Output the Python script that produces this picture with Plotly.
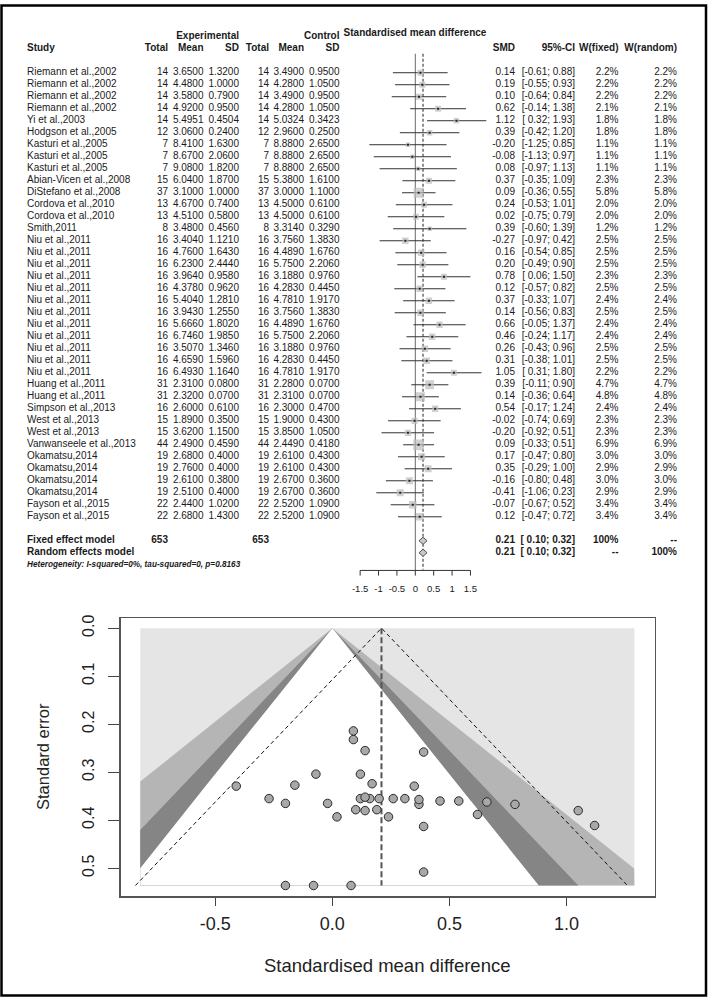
import numpy as np
import plotly.graph_objects as go

W, H = 708, 998

# ---------------- data ----------------
study = (["Riemann et al.,2002"] * 4 + ["Yi et al.,2003", "Hodgson et al.,2005"] +
         ["Kasturi et al.,2005"] * 3 +
         ["Abian-Vicen et al.,2008", "DiStefano et al.,2008", "Cordova et al.,2010",
          "Cordova et al.,2010", "Smith,2011"] +
         ["Niu et al.,2011"] * 12 + ["Huang et al.,2011"] * 2 + ["Simpson et al.,2013"] +
         ["West et al.,2013"] * 2 + ["Vanwanseele et al.,2013"] + ["Okamatsu,2014"] * 4 +
         ["Fayson et al.,2015"] * 2)

exp_total = [14, 14, 14, 14, 14, 12, 7, 7, 7, 15, 37, 13, 13, 8,
             16, 16, 16, 16, 16, 16, 16, 16, 16, 16, 16, 16,
             31, 31, 16, 15, 15, 44, 19, 19, 19, 19, 22, 22]
exp_mean = [3.6500, 4.4800, 3.5800, 4.9200, 5.4951, 3.0600, 8.4100, 8.6700, 9.0800, 6.0400,
            3.1000, 4.6700, 4.5100, 3.4800, 3.4040, 4.7600, 6.2300, 3.9640, 4.3780, 5.4040,
            3.9430, 5.6660, 6.7460, 3.5070, 4.6590, 6.4930, 2.3100, 2.3200, 2.6000, 1.8900,
            3.6200, 2.4900, 2.6800, 2.7600, 2.6100, 2.5100, 2.4400, 2.6800]
exp_sd = [1.3200, 1.0000, 0.7900, 0.9500, 0.4504, 0.2400, 1.6300, 2.0600, 1.8200, 1.8700,
          1.0000, 0.7400, 0.5800, 0.4560, 1.1210, 1.6430, 2.4440, 0.9580, 0.9620, 1.2810,
          1.2550, 1.8020, 1.9850, 1.3460, 1.5960, 1.1640, 0.0800, 0.0700, 0.6100, 0.3500,
          1.1500, 0.4590, 0.4000, 0.4000, 0.3800, 0.4000, 1.0200, 1.4300]
ctl_total = exp_total[:]
ctl_mean = [3.4900, 4.2800, 3.4900, 4.2800, 5.0324, 2.9600, 8.8800, 8.8800, 8.8800, 5.3800,
            3.0000, 4.5000, 4.5000, 3.3140, 3.7560, 4.4890, 5.7500, 3.1880, 4.2830, 4.7810,
            3.7560, 4.4890, 5.7500, 3.1880, 4.2830, 4.7810, 2.2800, 2.3100, 2.3000, 1.9000,
            3.8500, 2.4490, 2.6100, 2.6100, 2.6700, 2.6700, 2.5200, 2.5200]
ctl_sd = [0.9500, 1.0500, 0.9500, 1.0500, 0.3423, 0.2500, 2.6500, 2.6500, 2.6500, 1.6100,
          1.1000, 0.6100, 0.6100, 0.3290, 1.3830, 1.6760, 2.2060, 0.9760, 0.4450, 1.9170,
          1.3830, 1.6760, 2.2060, 0.9760, 0.4450, 1.9170, 0.0700, 0.0700, 0.4700, 0.4300,
          1.0500, 0.4180, 0.4300, 0.4300, 0.3600, 0.3600, 1.0900, 1.0900]
smd = [0.14, 0.19, 0.10, 0.62, 1.12, 0.39, -0.20, -0.08, 0.08, 0.37, 0.09, 0.24, 0.02, 0.39,
       -0.27, 0.16, 0.20, 0.78, 0.12, 0.37, 0.14, 0.66, 0.46, 0.26, 0.31, 1.05, 0.39, 0.14,
       0.54, -0.02, -0.20, 0.09, 0.17, 0.35, -0.16, -0.41, -0.07, 0.12]
ci_lo = [-0.61, -0.55, -0.64, -0.14, 0.32, -0.42, -1.25, -1.13, -0.97, -0.35, -0.36, -0.53,
         -0.75, -0.60, -0.97, -0.54, -0.49, 0.06, -0.57, -0.33, -0.56, -0.05, -0.24, -0.43,
         -0.38, 0.31, -0.11, -0.36, -0.17, -0.74, -0.92, -0.33, -0.47, -0.29, -0.80, -1.06,
         -0.67, -0.47]
ci_hi = [0.88, 0.93, 0.84, 1.38, 1.93, 1.20, 0.85, 0.97, 1.13, 1.09, 0.55, 1.01, 0.79, 1.39,
         0.42, 0.85, 0.90, 1.50, 0.82, 1.07, 0.83, 1.37, 1.17, 0.96, 1.01, 1.80, 0.90, 0.64,
         1.24, 0.69, 0.51, 0.51, 0.80, 1.00, 0.48, 0.23, 0.52, 0.72]
w_fixed = [2.2, 2.2, 2.2, 2.1, 1.8, 1.8, 1.1, 1.1, 1.1, 2.3, 5.8, 2.0, 2.0, 1.2, 2.5, 2.5, 2.5,
           2.3, 2.5, 2.4, 2.5, 2.4, 2.4, 2.5, 2.5, 2.2, 4.7, 4.8, 2.4, 2.3, 2.3, 6.9, 3.0, 2.9,
           3.0, 2.9, 3.4, 3.4]
w_random = w_fixed[:]
# standard errors used in the funnel plot (read from CI widths)
se = [0.380, 0.378, 0.378, 0.388, 0.411, 0.413, 0.536, 0.536, 0.536, 0.367, 0.232, 0.393,
      0.393, 0.508, 0.355, 0.355, 0.355, 0.367, 0.355, 0.357, 0.352, 0.362, 0.360, 0.355,
      0.355, 0.380, 0.258, 0.255, 0.360, 0.365, 0.365, 0.214, 0.324, 0.329, 0.327, 0.329,
      0.304, 0.304]

pooled_est, pooled_lo, pooled_hi = 0.21, 0.10, 0.32
n_total_exp, n_total_ctl = 653, 653
hetero_text = "Heterogeneity: I-squared=0%, tau-squared=0, p=0.8163"
forest_ticks = [-1.5, -1, -0.5, 0, 0.5, 1, 1.5]
forest_ticktext = ["-1.5", "-1", "-0.5", "0", "0.5", "1", "1.5"]
funnel_xticks = [-0.5, 0.0, 0.5, 1.0]
funnel_yticks = [0.0, 0.1, 0.2, 0.3, 0.4, 0.5]
contour_z = [2.576, 1.96, 1.645]   # 99%, 95%, 90%
funnel_xlim = [-0.82, 1.29]

# ---------------- layout constants ----------------
FONT = "Liberation Sans, Arial, Helvetica, sans-serif"
NARROW = "Liberation Sans Narrow, Arial Narrow, Liberation Sans, Arial, sans-serif"
TXT = "#1a1a1a"
row0_px, row_h = 69.0, 12.05
r_top = -row0_px / row_h
r_bot = (H - row0_px) / row_h
fx0, fs = 415.3, 36.77      # forest zero px, px per unit
n = len(study)
rows = list(range(n))
r_fixed, r_random, r_het = n + 1, n + 2, n + 3

fig = go.Figure()

def txt(xpx, ys, texts, pos="middle left", size=10, bold=False, italic=False, family=FONT):
    t = list(texts)
    if bold:
        t = ["<b>%s</b>" % s for s in t]
    if italic:
        t = ["<i>%s</i>" % s for s in t]
    fig.add_trace(go.Scatter(x=[xpx] * len(t), y=ys, text=t, mode="text", textposition=pos,
                             textfont=dict(family=family, size=size, color=TXT),
                             xaxis="x2", yaxis="y", hoverinfo="skip", showlegend=False,
                             cliponaxis=False))

# ---- forest: vertical reference lines ----
fig.add_trace(go.Scatter(x=[0, 0], y=[-1.58, 41.47], mode="lines",
                         line=dict(color="#6a6a6a", width=1), xaxis="x", yaxis="y",
                         hoverinfo="skip", showlegend=False))
fig.add_trace(go.Scatter(x=[pooled_est, pooled_est], y=[-1.58, 41.4], mode="lines",
                         line=dict(color="#222", width=1, dash="3px,2px"), xaxis="x", yaxis="y",
                         hoverinfo="skip", showlegend=False))

# ---- forest: CI lines ----
cx, cy = [], []
for i in rows:
    cx += [ci_lo[i], ci_hi[i], None]
    cy += [i, i, None]
fig.add_trace(go.Scatter(x=cx, y=cy, mode="lines", line=dict(color="#333", width=1),
                         xaxis="x", yaxis="y", hoverinfo="skip", showlegend=False))
# squares
fig.add_trace(go.Scatter(x=smd, y=rows, mode="markers",
                         marker=dict(symbol="square", size=[4.1 * np.sqrt(w) for w in w_fixed],
                                     color="#bdbdbd", line=dict(width=0)),
                         xaxis="x", yaxis="y", hoverinfo="skip", showlegend=False))
fig.add_trace(go.Scatter(x=smd, y=rows, mode="markers",
                         marker=dict(symbol="square", size=2, color="#222", line=dict(width=0)),
                         xaxis="x", yaxis="y", hoverinfo="skip", showlegend=False))
# diamonds
for rr in (r_fixed, r_random):
    h = 0.3
    fig.add_trace(go.Scatter(x=[pooled_lo, pooled_est, pooled_hi, pooled_est, pooled_lo],
                             y=[rr, rr - h, rr, rr + h, rr], mode="lines", fill="toself",
                             fillcolor="#c8c8c8", line=dict(color="#555", width=1),
                             xaxis="x", yaxis="y", hoverinfo="skip", showlegend=False))
# forest axis
ax_r, tk_r = 41.47, 41.9
axx, axy = [forest_ticks[0], forest_ticks[-1], None], [ax_r, ax_r, None]
for t in forest_ticks:
    axx += [t, t, None]
    axy += [ax_r, tk_r, None]
fig.add_trace(go.Scatter(x=axx, y=axy, mode="lines", line=dict(color="#333", width=1),
                         xaxis="x", yaxis="y", hoverinfo="skip", showlegend=False))
fig.add_trace(go.Scatter(x=forest_ticks, y=[43.05] * len(forest_ticks), text=forest_ticktext,
                         mode="text", textposition="middle center",
                         textfont=dict(family=NARROW, size=9.5, color=TXT),
                         xaxis="x", yaxis="y", hoverinfo="skip", showlegend=False))

# ---- forest: text table ----
col = dict(study=27, et=168, em=203.5, esd=239, ct=269, cm=304, csd=339.5,
           smd=515, ci=575, wf=618.5, wr=677)
txt(col["study"], rows, study, pos="middle right")
txt(col["et"], rows, [str(v) for v in exp_total])
txt(col["em"], rows, ["%.4f" % v for v in exp_mean])
txt(col["esd"], rows, ["%.4f" % v for v in exp_sd])
txt(col["ct"], rows, [str(v) for v in ctl_total])
txt(col["cm"], rows, ["%.4f" % v for v in ctl_mean])
txt(col["csd"], rows, ["%.4f" % v for v in ctl_sd])
txt(col["smd"], rows, ["%.2f" % v for v in smd])
txt(col["ci"], rows, ["[%5.2f; %4.2f]" % (a, b) for a, b in zip(ci_lo, ci_hi)])
txt(col["wf"], rows, ["%.1f%%" % v for v in w_fixed])
txt(col["wr"], rows, ["%.1f%%" % v for v in w_random])

# headers
txt(col["esd"], [-3.05], ["Experimental"], bold=True)
txt(col["csd"], [-3.05], ["Control"], bold=True)
txt(415, [-3.25], ["Standardised mean difference"], pos="middle center", bold=True)
txt(col["study"], [-2], ["Study"], pos="middle right", bold=True)
hdr = [("et", "Total"), ("em", "Mean"), ("esd", "SD"), ("ct", "Total"), ("cm", "Mean"),
       ("csd", "SD"), ("smd", "SMD"), ("ci", "95%-CI"), ("wf", "W(fixed)"), ("wr", "W(random)")]
for k, s in hdr:
    txt(col[k], [-2], [s], bold=True)

# pooled rows
ci_pool = "[%5.2f; %4.2f]" % (pooled_lo, pooled_hi)
txt(col["study"], [r_fixed, r_random], ["Fixed effect model", "Random effects model"],
    pos="middle right", bold=True)
txt(col["et"], [r_fixed], [str(n_total_exp)], bold=True)
txt(col["ct"], [r_fixed], [str(n_total_ctl)], bold=True)
txt(col["smd"], [r_fixed, r_random], ["%.2f" % pooled_est] * 2, bold=True)
txt(col["ci"], [r_fixed, r_random], [ci_pool] * 2, bold=True)
txt(col["wf"], [r_fixed, r_random], ["100%", "--"], bold=True)
txt(col["wr"], [r_fixed, r_random], ["--", "100%"], bold=True)
txt(col["study"], [r_het], [hetero_text], pos="middle right", size=8.2, bold=True, italic=True)

# ---------------- funnel plot ----------------
semax = max(se)
fig.add_trace(go.Scatter(x=[funnel_xlim[0], funnel_xlim[1], funnel_xlim[1], funnel_xlim[0], funnel_xlim[0]],
                         y=[0, 0, semax, semax, 0], mode="lines", fill="toself",
                         fillcolor="#e5e5e5", line=dict(width=0),
                         xaxis="x3", yaxis="y3", hoverinfo="skip", showlegend=False))
shade = ["#b5b5b5", "#858585", "#ffffff"]
s_grid = np.linspace(0, semax, 600)
for z, c in zip(contour_z, shade):
    xl = np.maximum(-z * s_grid, funnel_xlim[0])
    xr = np.minimum(z * s_grid, funnel_xlim[1])
    fig.add_trace(go.Scatter(x=np.concatenate([xl, xr[::-1]]),
                             y=np.concatenate([s_grid, s_grid[::-1]]),
                             mode="lines", fill="toself", fillcolor=c, line=dict(width=0),
                             xaxis="x3", yaxis="y3", hoverinfo="skip", showlegend=False))
# pseudo CI lines
fig.add_trace(go.Scatter(x=[pooled_est - 1.96 * semax, pooled_est, pooled_est + 1.96 * semax],
                         y=[semax, 0, semax], mode="lines",
                         line=dict(color="#111", width=1, dash="4px,3px"),
                         xaxis="x3", yaxis="y3", hoverinfo="skip", showlegend=False))
fig.add_trace(go.Scatter(x=[pooled_est, pooled_est], y=[0, semax], mode="lines",
                         line=dict(color="#555", width=2, dash="6px,3px"),
                         xaxis="x3", yaxis="y3", hoverinfo="skip", showlegend=False))
fig.add_trace(go.Scatter(x=smd, y=se, mode="markers",
                         marker=dict(symbol="circle", size=8.5, color="#a8a8a8",
                                     line=dict(color="#2a2a2a", width=1)),
                         xaxis="x3", yaxis="y3", hoverinfo="skip", showlegend=False))

# funnel axes geometry (pixels)
fb_l, fb_r, fb_t, fb_b = 120.5, 654.6, 616.7, 896.0
x0px, xsc = 332.3, 234.2
y0px, ysc = 626.7, 482.0

fig.update_layout(
    width=W, height=H, margin=dict(l=0, r=0, t=0, b=0),
    paper_bgcolor="white", plot_bgcolor="rgba(0,0,0,0)",
    showlegend=False, hovermode=False,
    xaxis=dict(domain=[(fx0 - 3 * fs) / W, (fx0 + 3 * fs) / W], range=[-3, 3],
               visible=False, anchor="y"),
    xaxis2=dict(domain=[0, 1], range=[0, W], visible=False, anchor="y"),
    yaxis=dict(domain=[0, 1], range=[r_bot, r_top], visible=False, anchor="x"),
    xaxis3=dict(domain=[fb_l / W, fb_r / W],
                range=[(fb_l - x0px) / xsc, (fb_r - x0px) / xsc],
                anchor="y3", showgrid=False, zeroline=False,
                showline=True, mirror=True, linecolor="#555", linewidth=1.5,
                ticks="outside", ticklen=8, tickcolor="#444", tickwidth=1,
                tickvals=funnel_xticks, ticktext=["%.1f" % v for v in funnel_xticks],
                tickfont=dict(family=FONT, size=18, color="#222"),
                ticklabelstandoff=2),
    yaxis3=dict(domain=[1 - fb_b / H, 1 - fb_t / H],
                range=[(fb_b - y0px) / ysc, (fb_t - y0px) / ysc],
                anchor="x3", showgrid=False, zeroline=False,
                showline=True, mirror=True, linecolor="#555", linewidth=1.5,
                ticks="outside", ticklen=11, tickcolor="#444", tickwidth=1,
                tickvals=funnel_yticks, ticktext=["%.1f" % v for v in funnel_yticks],
                tickangle=-90, tickfont=dict(family=FONT, size=16, color="#222"),
                ticklabelstandoff=8),
    annotations=[
        dict(text="Standard error", x=43 / W, y=1 - 756 / H, xref="paper", yref="paper",
             textangle=-90, showarrow=False, xanchor="center", yanchor="middle",
             font=dict(family=FONT, size=16.5, color="#222")),
        dict(text="Standardised mean difference", x=387 / W, y=1 - 965 / H,
             xref="paper", yref="paper", showarrow=False, xanchor="center", yanchor="middle",
             font=dict(family=FONT, size=18.5, color="#222")),
    ],
    shapes=[dict(type="rect", xref="paper", yref="paper", x0=1.5 / W, x1=706 / W,
                 y0=1 - 995.5 / H, y1=1 - 1.5 / H, line=dict(color="black", width=2.5))],
)

fig.write_html("out.html", config={"displayModeBar": False, "staticPlot": True},
               post_script="document.body.style.margin='0';document.body.style.overflow='hidden';")
